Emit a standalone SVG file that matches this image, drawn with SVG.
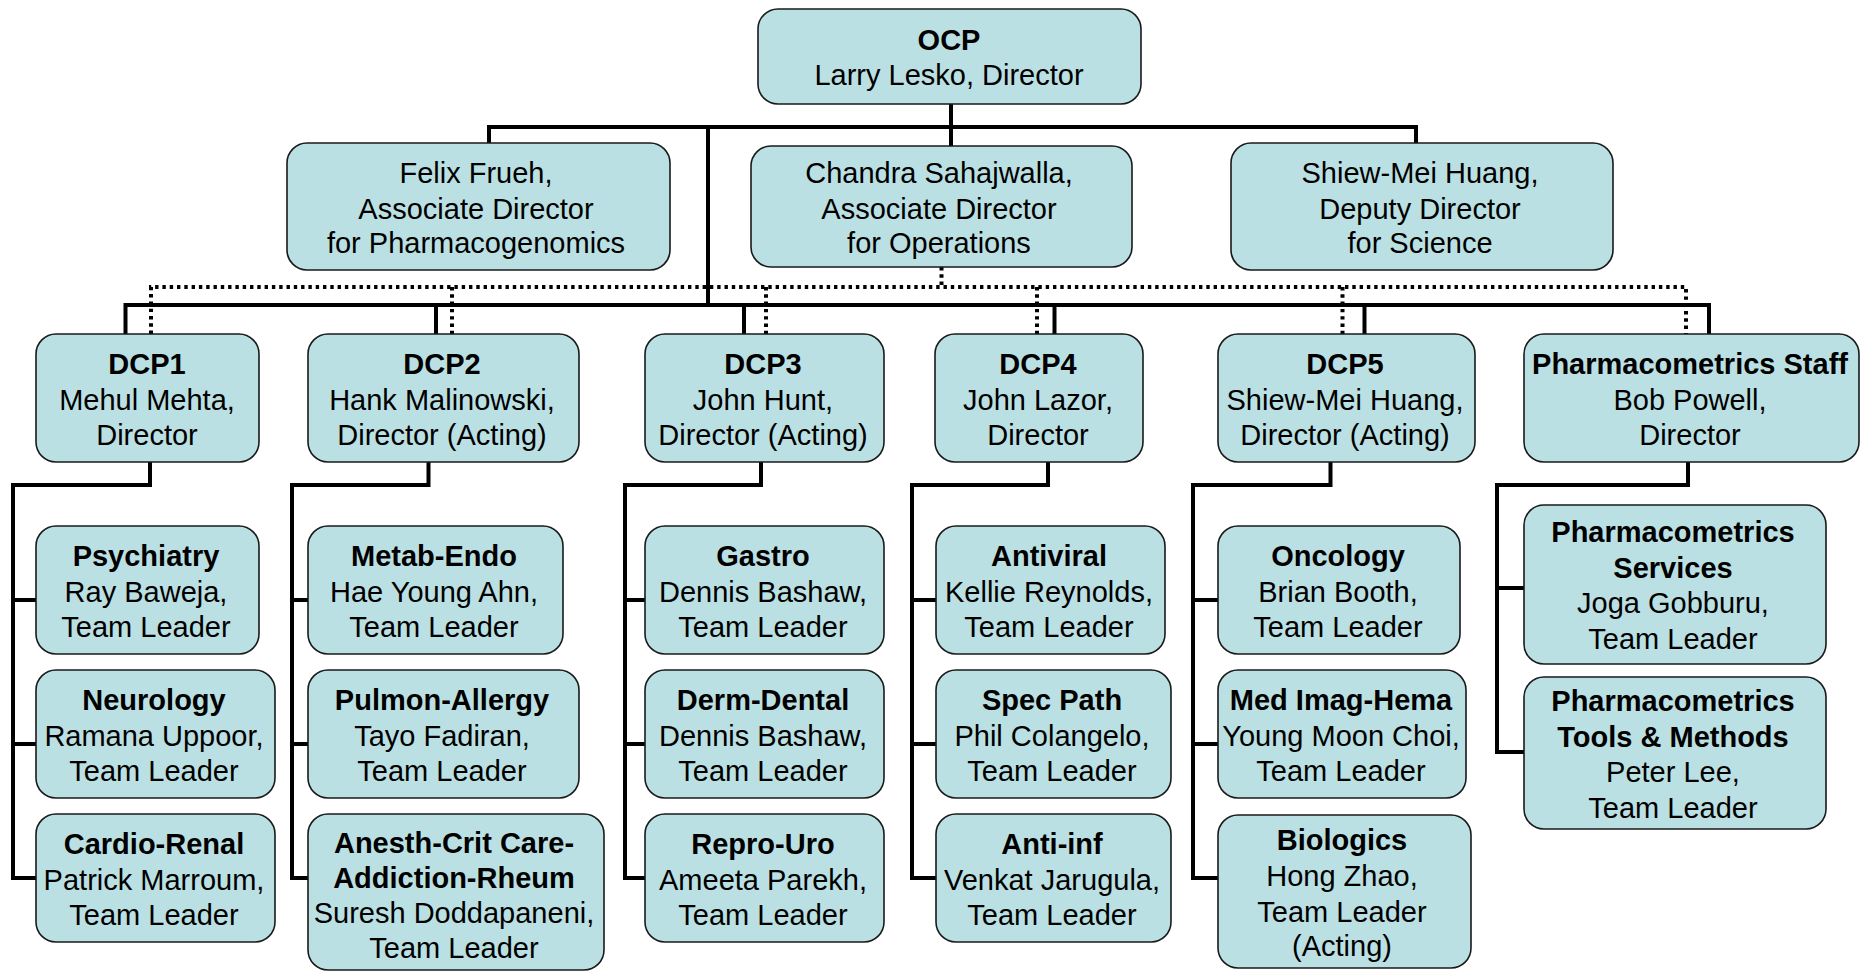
<svg xmlns="http://www.w3.org/2000/svg" width="1866" height="972" viewBox="0 0 1866 972">
<style>
.box{fill:#BBE0E3;stroke:#1a1a1a;stroke-width:1.6}
.t{font-family:"Liberation Sans",Arial,Helvetica,sans-serif;font-size:29px;text-anchor:middle;fill:#000}
.b{font-weight:bold}
.ln{stroke:#000;stroke-width:4;fill:none;stroke-linejoin:miter}
.dot{stroke:#000;stroke-width:4;fill:none;stroke-dasharray:3.4 3.9}
</style>
<rect width="1866" height="972" fill="#fff"/>
<g id="connectors">
  <path class="ln" d="M489,143 V127 H1416 V143"/>
  <path class="ln" d="M951,104 V146"/>
  <path class="ln" d="M708,127 V305"/>
  <path class="ln" d="M125.5,334 V305 H1709 V334"/>
  <path class="ln" d="M436,305 V334 M744,305 V334 M1054.5,305 V334 M1364.5,305 V334"/>
  <path class="dot" d="M941.5,267 V287"/>
  <path class="dot" d="M151,334 V287 H1686 V334"/>
  <path class="dot" d="M452,287 V334 M766,287 V334 M1037,287 V334 M1342.5,287 V334"/>
  <path class="ln" d="M150,462 V485 H13 V878 H36 M13,600 H36 M13,744 H36"/>
  <path class="ln" d="M428.5,462 V485 H292 V878 H308 M292,600 H308 M292,744 H308"/>
  <path class="ln" d="M761,462 V485 H625 V878 H645 M625,600 H645 M625,744 H645"/>
  <path class="ln" d="M1048,462 V485 H912 V878 H936 M912,600 H936 M912,744 H936"/>
  <path class="ln" d="M1330.5,462 V485 H1193 V878 H1218 M1193,600 H1218 M1193,744 H1218"/>
  <path class="ln" d="M1688,462 V485 H1497 V752 H1524 M1497,588 H1524"/>
</g>
<g id="ocp">
  <rect class="box" x="758" y="9" width="383" height="95" rx="20"/>
  <text class="t b" x="949" y="49.5">OCP</text>
  <text class="t" x="949" y="85">Larry Lesko, Director</text>
</g>
<g id="felix">
  <rect class="box" x="287" y="143" width="383" height="127" rx="20"/>
  <text class="t" x="476" y="183">Felix Frueh,</text>
  <text class="t" x="476" y="218.5">Associate Director</text>
  <text class="t" x="476" y="253">for Pharmacogenomics</text>
</g>
<g id="chandra">
  <rect class="box" x="751" y="146" width="381" height="121" rx="20"/>
  <text class="t" x="939" y="183">Chandra Sahajwalla,</text>
  <text class="t" x="939" y="218.5">Associate Director</text>
  <text class="t" x="939" y="253">for Operations</text>
</g>
<g id="shiew">
  <rect class="box" x="1231" y="143" width="382" height="127" rx="20"/>
  <text class="t" x="1420" y="183">Shiew-Mei Huang,</text>
  <text class="t" x="1420" y="218.5">Deputy Director</text>
  <text class="t" x="1420" y="253">for Science</text>
</g>
<g id="dcp1">
  <rect class="box" x="36" y="334" width="223" height="128" rx="20"/>
  <text class="t b" x="147" y="374">DCP1</text>
  <text class="t" x="147" y="409.5">Mehul Mehta,</text>
  <text class="t" x="147" y="445">Director</text>
</g>
<g id="dcp2">
  <rect class="box" x="308" y="334" width="271" height="128" rx="20"/>
  <text class="t b" x="442" y="374">DCP2</text>
  <text class="t" x="442" y="409.5">Hank Malinowski,</text>
  <text class="t" x="442" y="445">Director (Acting)</text>
</g>
<g id="dcp3">
  <rect class="box" x="645" y="334" width="239" height="128" rx="20"/>
  <text class="t b" x="763" y="374">DCP3</text>
  <text class="t" x="763" y="409.5">John Hunt,</text>
  <text class="t" x="763" y="445">Director (Acting)</text>
</g>
<g id="dcp4">
  <rect class="box" x="935" y="334" width="208" height="128" rx="20"/>
  <text class="t b" x="1038" y="374">DCP4</text>
  <text class="t" x="1038" y="409.5">John Lazor,</text>
  <text class="t" x="1038" y="445">Director</text>
</g>
<g id="dcp5">
  <rect class="box" x="1218" y="334" width="257" height="128" rx="20"/>
  <text class="t b" x="1345" y="374">DCP5</text>
  <text class="t" x="1345" y="409.5">Shiew-Mei Huang,</text>
  <text class="t" x="1345" y="445">Director (Acting)</text>
</g>
<g id="pmstaff">
  <rect class="box" x="1524" y="334" width="335" height="128" rx="20"/>
  <text class="t b" x="1690" y="374">Pharmacometrics Staff</text>
  <text class="t" x="1690" y="409.5">Bob Powell,</text>
  <text class="t" x="1690" y="445">Director</text>
</g>
<g id="psychiatry">
  <rect class="box" x="36" y="526" width="223" height="128" rx="20"/>
  <text class="t b" x="146" y="566">Psychiatry</text>
  <text class="t" x="146" y="601.5">Ray Baweja,</text>
  <text class="t" x="146" y="637">Team Leader</text>
</g>
<g id="neurology">
  <rect class="box" x="36" y="670" width="239" height="128" rx="20"/>
  <text class="t b" x="154" y="710">Neurology</text>
  <text class="t" x="154" y="745.5">Ramana Uppoor,</text>
  <text class="t" x="154" y="781">Team Leader</text>
</g>
<g id="cardio">
  <rect class="box" x="36" y="814" width="239" height="128" rx="20"/>
  <text class="t b" x="154" y="854">Cardio-Renal</text>
  <text class="t" x="154" y="889.5">Patrick Marroum,</text>
  <text class="t" x="154" y="925">Team Leader</text>
</g>
<g id="metab">
  <rect class="box" x="308" y="526" width="255" height="128" rx="20"/>
  <text class="t b" x="434" y="566">Metab-Endo</text>
  <text class="t" x="434" y="601.5">Hae Young Ahn,</text>
  <text class="t" x="434" y="637">Team Leader</text>
</g>
<g id="pulmon">
  <rect class="box" x="308" y="670" width="271" height="128" rx="20"/>
  <text class="t b" x="442" y="710">Pulmon-Allergy</text>
  <text class="t" x="442" y="745.5">Tayo Fadiran,</text>
  <text class="t" x="442" y="781">Team Leader</text>
</g>
<g id="anesth">
  <rect class="box" x="308" y="814" width="296" height="156" rx="20"/>
  <text class="t b" x="454" y="852.5">Anesth-Crit Care-</text>
  <text class="t b" x="454" y="887.5">Addiction-Rheum</text>
  <text class="t" x="454" y="923">Suresh Doddapaneni,</text>
  <text class="t" x="454" y="957.5">Team Leader</text>
</g>
<g id="gastro">
  <rect class="box" x="645" y="526" width="239" height="128" rx="20"/>
  <text class="t b" x="763" y="566">Gastro</text>
  <text class="t" x="763" y="601.5">Dennis Bashaw,</text>
  <text class="t" x="763" y="637">Team Leader</text>
</g>
<g id="derm">
  <rect class="box" x="645" y="670" width="239" height="128" rx="20"/>
  <text class="t b" x="763" y="710">Derm-Dental</text>
  <text class="t" x="763" y="745.5">Dennis Bashaw,</text>
  <text class="t" x="763" y="781">Team Leader</text>
</g>
<g id="repro">
  <rect class="box" x="645" y="814" width="239" height="128" rx="20"/>
  <text class="t b" x="763" y="854">Repro-Uro</text>
  <text class="t" x="763" y="889.5">Ameeta Parekh,</text>
  <text class="t" x="763" y="925">Team Leader</text>
</g>
<g id="antiviral">
  <rect class="box" x="936" y="526" width="229" height="128" rx="20"/>
  <text class="t b" x="1049" y="566">Antiviral</text>
  <text class="t" x="1049" y="601.5">Kellie Reynolds,</text>
  <text class="t" x="1049" y="637">Team Leader</text>
</g>
<g id="specpath">
  <rect class="box" x="936" y="670" width="235" height="128" rx="20"/>
  <text class="t b" x="1052" y="710">Spec Path</text>
  <text class="t" x="1052" y="745.5">Phil Colangelo,</text>
  <text class="t" x="1052" y="781">Team Leader</text>
</g>
<g id="antiinf">
  <rect class="box" x="936" y="814" width="235" height="128" rx="20"/>
  <text class="t b" x="1052" y="854">Anti-inf</text>
  <text class="t" x="1052" y="889.5">Venkat Jarugula,</text>
  <text class="t" x="1052" y="925">Team Leader</text>
</g>
<g id="oncology">
  <rect class="box" x="1218" y="526" width="242" height="128" rx="20"/>
  <text class="t b" x="1338" y="566">Oncology</text>
  <text class="t" x="1338" y="601.5">Brian Booth,</text>
  <text class="t" x="1338" y="637">Team Leader</text>
</g>
<g id="medimag">
  <rect class="box" x="1218" y="670" width="248" height="128" rx="20"/>
  <text class="t b" x="1341" y="710">Med Imag-Hema</text>
  <text class="t" x="1341" y="745.5">Young Moon Choi,</text>
  <text class="t" x="1341" y="781">Team Leader</text>
</g>
<g id="biologics">
  <rect class="box" x="1218" y="815" width="253" height="153" rx="20"/>
  <text class="t b" x="1342" y="850">Biologics</text>
  <text class="t" x="1342" y="886">Hong Zhao,</text>
  <text class="t" x="1342" y="921.5">Team Leader</text>
  <text class="t" x="1342" y="956">(Acting)</text>
</g>
<g id="pmservices">
  <rect class="box" x="1524" y="505" width="302" height="159" rx="20"/>
  <text class="t b" x="1673" y="542">Pharmacometrics</text>
  <text class="t b" x="1673" y="577.5">Services</text>
  <text class="t" x="1673" y="613">Joga Gobburu,</text>
  <text class="t" x="1673" y="649">Team Leader</text>
</g>
<g id="pmtools">
  <rect class="box" x="1524" y="677" width="302" height="152" rx="20"/>
  <text class="t b" x="1673" y="711">Pharmacometrics</text>
  <text class="t b" x="1673" y="746.5">Tools &amp; Methods</text>
  <text class="t" x="1673" y="782">Peter Lee,</text>
  <text class="t" x="1673" y="818">Team Leader</text>
</g>
</svg>
